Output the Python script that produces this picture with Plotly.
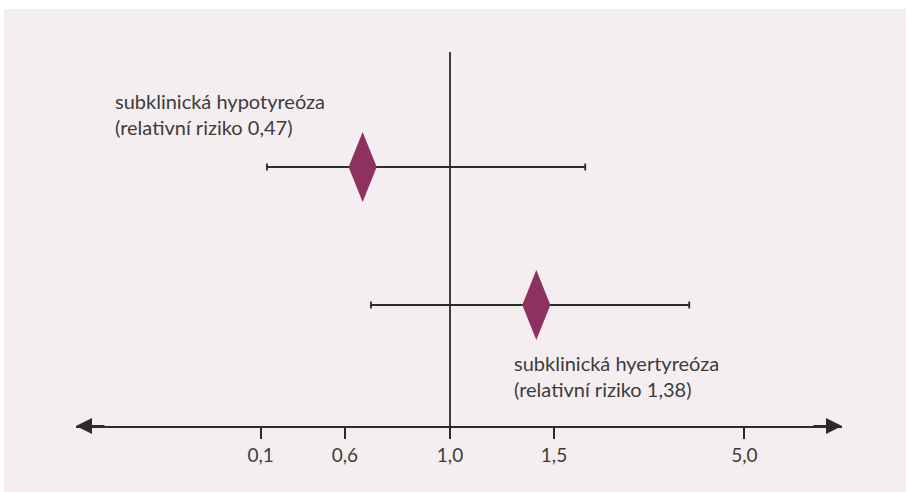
import plotly.graph_objects as go

# Schematic forest plot (display units: 1.0 reference line at 0)
labels = ["subklinická hypotyreóza<br>(relativní riziko 0,47)",
          "subklinická hyertyreóza<br>(relativní riziko 1,38)"]
row_pos = [1, 0]
estimate = [-0.84, 0.83]
ci_low = [-1.76, -0.76]
ci_high = [1.30, 2.30]

tick_pos = [-1.82, -1.01, 0.0, 1.0, 2.83]
tick_text = ["0,1", "0,6", "1,0", "1,5", "5,0"]

label_x = [-3.24, 0.60]
label_y = [1.384, -0.514]

DIAMOND_COLOR = "#8e3060"
INK = "#2b2b2b"
TEXT = "#3c3c3c"
BG = "#f5eef0"
FONT = "Lato"

fig = go.Figure()

# error bars
fig.add_trace(go.Scatter(
    x=estimate, y=row_pos, mode="markers",
    marker=dict(size=1, color="rgba(0,0,0,0)"),
    error_x=dict(type="data", symmetric=False,
                 array=[h - e for h, e in zip(ci_high, estimate)],
                 arrayminus=[e - l for e, l in zip(estimate, ci_low)],
                 color=INK, thickness=1.8, width=3.5),
    showlegend=False, hoverinfo="skip"))

# diamonds
half_w = 0.135
half_h = 0.254
for e, r in zip(estimate, row_pos):
    fig.add_trace(go.Scatter(
        x=[e - half_w, e, e + half_w, e, e - half_w],
        y=[r, r + half_h, r, r - half_h, r],
        mode="lines", fill="toself", fillcolor=DIAMOND_COLOR,
        line=dict(color=DIAMOND_COLOR, width=0),
        showlegend=False, hoverinfo="skip"))

# reference vertical line at 1,0
fig.add_shape(type="line", x0=0, x1=0, y0=-0.8768, y1=1.833,
              xref="x", yref="y", line=dict(color=INK, width=1.8), layer="below")

# background panel
fig.add_shape(type="rect", xref="paper", yref="paper",
              x0=(4 - 76) / 766, x1=(906 - 76) / 766,
              y0=(426 - 492) / 426, y1=(426 - 9) / 426,
              fillcolor=BG, line=dict(width=0), layer="below")

for t, x, y in zip(labels, label_x, label_y):
    fig.add_annotation(x=x, y=y, xref="x", yref="y", text=t, showarrow=False,
                       xanchor="left", yanchor="middle", align="left",
                       font=dict(family=FONT, size=20, color=TEXT))

# axis arrowheads
fig.add_annotation(x=0, y=0, xref="paper", yref="paper", ax=30, ay=0,
                   axref="pixel", ayref="pixel", text="", showarrow=True,
                   arrowhead=2, arrowsize=1.6, arrowwidth=2, arrowcolor=INK, standoff=0)
fig.add_annotation(x=1, y=0, xref="paper", yref="paper", ax=-30, ay=0,
                   axref="pixel", ayref="pixel", text="", showarrow=True,
                   arrowhead=2, arrowsize=1.6, arrowwidth=2, arrowcolor=INK, standoff=0)

fig.update_layout(
    width=908, height=492,
    margin=dict(l=76, r=66, t=0, b=66),
    paper_bgcolor="white", plot_bgcolor="rgba(0,0,0,0)",
    xaxis=dict(range=[-3.596, 3.769], showgrid=False, zeroline=False,
               showline=True, linecolor=INK, linewidth=2,
               ticks="outside", ticklen=11, tickwidth=1.5, tickcolor=INK,
               tickvals=tick_pos, ticktext=tick_text,
               tickfont=dict(family=FONT, size=19, color=TEXT)),
    yaxis=dict(range=[-0.8768, 2.2101], showgrid=False, zeroline=False,
               showline=False, showticklabels=False, ticks=""),
)

fig.write_html("out.html", config={"displayModeBar": False},
               post_script="document.body.style.margin='0';")
